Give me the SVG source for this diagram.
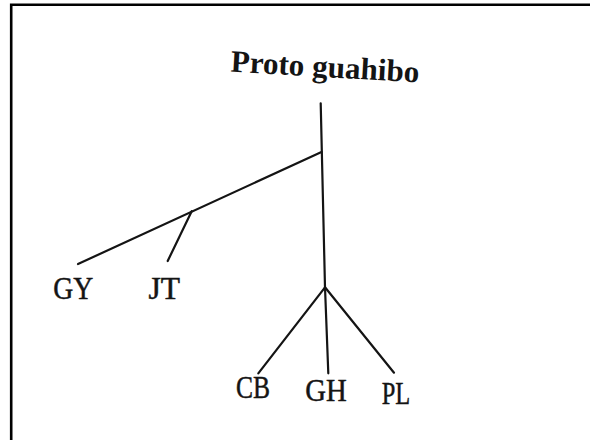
<svg xmlns="http://www.w3.org/2000/svg" width="590" height="440" viewBox="0 0 590 440">
  <style>
    .edge { stroke: #141414; stroke-width: 2.2; fill: none; stroke-linecap: round; }
    .lbl { font-family: "Liberation Serif", "Times New Roman", serif; font-size: 32px; fill: #141414; stroke: #141414; stroke-width: 0.5; text-anchor: middle; }
    .title { font-family: "Liberation Serif", "Times New Roman", serif; font-size: 31px; font-weight: bold; fill: #141414; text-anchor: middle; }
    .frame { stroke: #000; stroke-width: 2.6; fill: none; }
  </style>
  <rect x="0" y="0" width="590" height="440" fill="#ffffff"/>
  <path class="frame" d="M11.2,440 L11.2,4.8 L590,4.8"/>
  <g id="connectors">
    <line class="edge" x1="320.7" y1="103.3" x2="325" y2="287.3"/>
    <line class="edge" x1="321.5" y1="152" x2="78" y2="264"/>
    <line class="edge" x1="191.7" y1="211.2" x2="167.7" y2="261"/>
    <line class="edge" x1="325" y1="287.3" x2="258.3" y2="373.3"/>
    <line class="edge" x1="325" y1="287.3" x2="328.3" y2="373.3"/>
    <line class="edge" x1="325" y1="287.3" x2="394" y2="372.7"/>
  </g>
  <g id="node-proto">
    <text class="title" x="324.5" y="77" textLength="189" lengthAdjust="spacingAndGlyphs" transform="rotate(3.3 324.5 77)">Proto guahibo</text>
  </g>
  <g id="node-gy">
    <text class="lbl" x="73.3" y="299.3" textLength="40" lengthAdjust="spacingAndGlyphs">GY</text>
  </g>
  <g id="node-jt">
    <text class="lbl" x="164.2" y="298.5" textLength="31.5" lengthAdjust="spacingAndGlyphs">JT</text>
  </g>
  <g id="node-cb">
    <text class="lbl" x="253" y="398.3" textLength="34" lengthAdjust="spacingAndGlyphs">CB</text>
  </g>
  <g id="node-gh">
    <text class="lbl" x="326" y="401" textLength="41.5" lengthAdjust="spacingAndGlyphs">GH</text>
  </g>
  <g id="node-pl">
    <text class="lbl" x="396" y="404.3" textLength="28.5" lengthAdjust="spacingAndGlyphs">PL</text>
  </g>
</svg>
